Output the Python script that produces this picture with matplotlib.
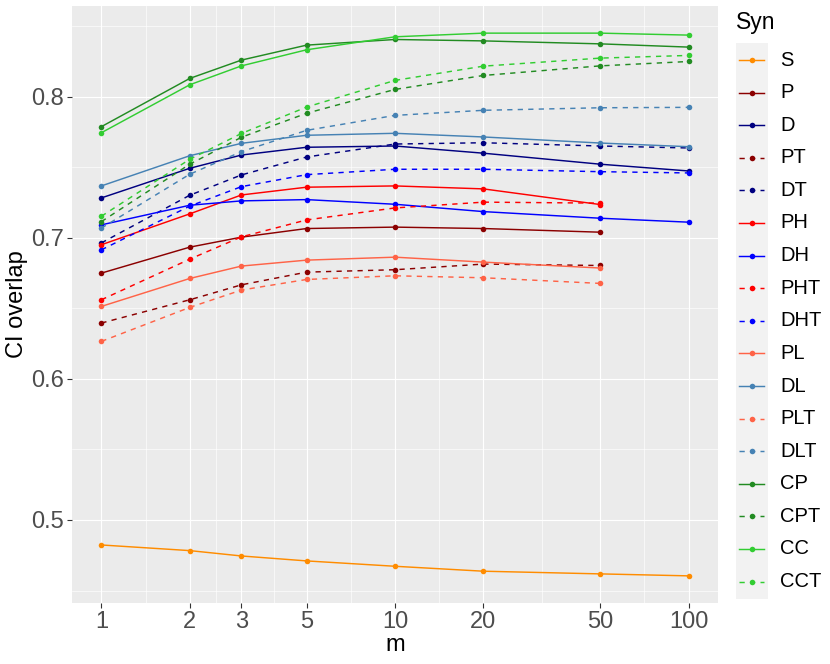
import numpy as np
import matplotlib
matplotlib.use("Agg")
import matplotlib.pyplot as plt
from matplotlib.patches import Rectangle
from matplotlib.ticker import FixedLocator, FixedFormatter, NullFormatter

plt.rcParams['font.family'] = ['Liberation Sans', 'DejaVu Sans']

nan = np.nan
m = [1, 2, 3, 5, 10, 20, 50, 100]
m_labels = ["1", "2", "3", "5", "10", "20", "50", "100"]

S   = [0.4823, 0.4783, 0.4745, 0.4710, 0.4672, 0.4637, 0.4618, 0.4604]
P   = [0.6750, 0.6934, 0.7005, 0.7066, 0.7076, 0.7066, 0.7040, nan]
D   = [0.7283, 0.7493, 0.7587, 0.7642, 0.7651, 0.7600, 0.7522, 0.7474]
PT  = [0.6396, 0.6561, 0.6667, 0.6757, 0.6774, 0.6814, 0.6804, nan]
DT  = [0.6964, 0.7302, 0.7446, 0.7573, 0.7665, 0.7674, 0.7651, 0.7637]
PH  = [0.6951, 0.7170, 0.7304, 0.7359, 0.7368, 0.7347, 0.7236, nan]
DH  = [0.7092, 0.7231, 0.7262, 0.7271, 0.7238, 0.7186, 0.7139, 0.7111]
PHT = [0.6561, 0.6849, 0.7007, 0.7127, 0.7212, 0.7253, 0.7246, nan]
DHT = [0.6915, 0.7225, 0.7363, 0.7448, 0.7486, 0.7486, 0.7469, 0.7460]
PL  = [0.6514, 0.6712, 0.6800, 0.6842, 0.6863, 0.6828, 0.6786, nan]
DL  = [0.7368, 0.7582, 0.7670, 0.7727, 0.7741, 0.7715, 0.7672, 0.7646]
PLT = [0.6266, 0.6507, 0.6630, 0.6705, 0.6731, 0.6717, 0.6677, nan]
DLT = [0.7069, 0.7451, 0.7611, 0.7762, 0.7868, 0.7904, 0.7922, 0.7925]
CP  = [0.7788, 0.8130, 0.8260, 0.8366, 0.8406, 0.8396, 0.8375, 0.8352]
CPT = [0.7115, 0.7522, 0.7713, 0.7883, 0.8052, 0.8151, 0.8219, 0.8250]
CC  = [0.7745, 0.8085, 0.8219, 0.8333, 0.8425, 0.8451, 0.8451, 0.8437]
CCT = [0.7153, 0.7557, 0.7740, 0.7927, 0.8116, 0.8217, 0.8274, 0.8293]

names = ["S", "P", "D", "PT", "DT", "PH", "DH", "PHT", "DHT",
         "PL", "DL", "PLT", "DLT", "CP", "CPT", "CC", "CCT"]
series = [S, P, D, PT, DT, PH, DH, PHT, DHT, PL, DL, PLT, DLT, CP, CPT, CC, CCT]
colors = ["#FF8C00", "#8B0000", "#000080", "#8B0000", "#000080", "#FF0000", "#0000FF",
          "#FF0000", "#0000FF", "#FF6347", "#4682B4", "#FF6347", "#4682B4",
          "#228B22", "#228B22", "#32CD32", "#32CD32"]
dashed = [n.endswith("T") for n in names]

W, H = 830, 664
fig = plt.figure(figsize=(W / 100, H / 100), dpi=100)
L, R, T, B = 72, 718, 6, 603
ax = fig.add_axes([L / W, 1 - B / H, (R - L) / W, (B - T) / H])
ax.set_facecolor("#EBEBEB")
for s in ax.spines.values():
    s.set_visible(False)

lw = 1.05
dash = (3.6, 3.6)
for i, (nm, ys, c, d) in enumerate(zip(names, series, colors, dashed)):
    ln, = ax.plot(m, ys, color=c, lw=lw, marker="o", markersize=4.0,
                  markeredgewidth=0, zorder=3 + i * 0.01)
    if d:
        ln.set_dashes(dash)

ax.set_xscale("log")
lx0, lx1 = np.log10(min(m)), np.log10(max(m))
ex = (lx1 - lx0) * 0.05
ax.set_xlim(10 ** (lx0 - ex), 10 ** (lx1 + ex))
allv = np.concatenate([np.array(s, dtype=float) for s in series])
ymin, ymax = np.nanmin(allv), np.nanmax(allv)
ey = (ymax - ymin) * 0.05
ax.set_ylim(ymin - ey, ymax + ey)

lm = np.log10(m)
xmin_ = [10 ** ((lm[i] + lm[i + 1]) / 2) for i in range(len(m) - 1)]
ax.xaxis.set_major_locator(FixedLocator(m))
ax.xaxis.set_major_formatter(FixedFormatter(m_labels))
ax.xaxis.set_minor_locator(FixedLocator(xmin_))
ax.xaxis.set_minor_formatter(NullFormatter())

ymaj = [0.5, 0.6, 0.7, 0.8]
ymin_ = [0.45, 0.55, 0.65, 0.75, 0.85]
ax.yaxis.set_major_locator(FixedLocator(ymaj))
ax.yaxis.set_major_formatter(FixedFormatter(["0.5", "0.6", "0.7", "0.8"]))
ax.yaxis.set_minor_locator(FixedLocator(ymin_))
ax.yaxis.set_minor_formatter(NullFormatter())

ax.grid(which="major", color="white", lw=0.85, zorder=1)
ax.grid(which="minor", color="white", lw=0.45, zorder=1)
ax.set_axisbelow(True)
ax.tick_params(which="major", length=3.6, width=0.8, color="#333333",
               labelsize=17, labelcolor="#4D4D4D", pad=2.2)
ax.tick_params(which="minor", length=0)

ax.set_xlabel("m", fontsize=17, color="black", labelpad=1)
ax.set_ylabel("CI overlap", fontsize=17, color="black", labelpad=2)

# legend drawn in figure pixel coordinates
lg = fig.add_axes([0, 0, 1, 1], zorder=5)
lg.set_xlim(0, W)
lg.set_ylim(H, 0)
lg.axis("off")
lg.text(736, 22, "Syn", fontsize=16.5, ha="left", va="center", color="black")
row0, step = 60, 32.6
lg.add_patch(Rectangle((736, 43), 32, step * len(names) + 2, facecolor="#F2F2F2",
                       edgecolor="none"))
for i, (nm, c, d) in enumerate(zip(names, colors, dashed)):
    yy = row0 + i * step
    ln, = lg.plot([739, 764], [yy, yy], color=c, lw=lw, marker=None)
    if d:
        ln.set_dashes(dash)
    lg.plot([751.5], [yy], color=c, marker="o", markersize=4.0, markeredgewidth=0)
    lg.text(780, yy, nm, fontsize=14.5, ha="left", va="center", color="black")

fig.savefig("out.png", dpi=100)
